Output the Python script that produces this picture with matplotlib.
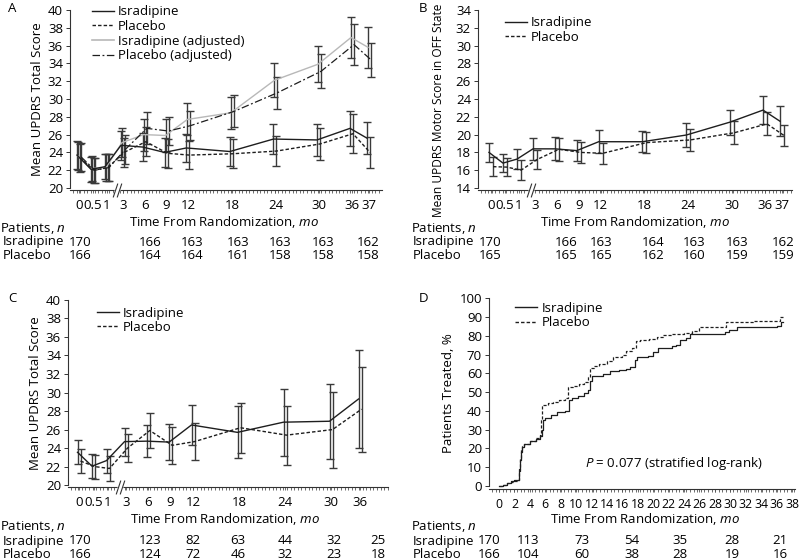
import numpy as np
import matplotlib
matplotlib.use('Agg')
import matplotlib.pyplot as plt
from matplotlib import transforms
from matplotlib.lines import Line2D

plt.rcParams['font.family'] = ['Open Sans', 'DejaVu Sans']
plt.rcParams['mathtext.fontset'] = 'custom'
plt.rcParams['mathtext.rm'] = 'Open Sans'
plt.rcParams['mathtext.it'] = 'Open Sans:italic'
plt.rcParams['font.size'] = 9.5
FS = 9.5

# ---------------- data ----------------
visits = [0, 0.5, 1, 3, 6, 9, 12, 18, 24, 30, 36, 37]
visit_labels = ['0', '0.5', '1', '3', '6', '9', '12', '18', '24', '30', '36', '37']

# panel A: UPDRS total score
a_isr = [23.7, 22.1, 22.4, 24.8, 24.6, 24.0, 24.5, 24.1, 25.5, 25.4, 26.7, 25.6]
a_isr_err = [1.6, 1.4, 1.4, 1.6, 1.6, 1.6, 1.6, 1.6, 1.7, 1.8, 2.0, 1.8]
a_pla = [23.4, 22.0, 22.3, 24.0, 25.2, 23.9, 23.7, 23.85, 24.15, 24.95, 26.1, 24.0]
a_pla_err = [1.6, 1.4, 1.5, 1.6, 1.6, 1.6, 1.6, 1.6, 1.7, 1.8, 2.2, 1.7]
a_isr_adj = [23.6, 22.2, 22.3, 25.1, 26.0, 25.9, 27.7, 28.45, 32.1, 33.9, 36.9, 35.8]
a_isr_adj_err = [1.6, 1.4, 1.5, 1.6, 1.8, 1.8, 1.8, 1.8, 1.9, 2.0, 2.3, 2.3]
a_pla_adj = [23.5, 22.0, 22.3, 24.3, 26.7, 26.4, 27.0, 28.6, 30.7, 33.1, 36.1, 34.4]
a_pla_adj_err = [1.6, 1.4, 1.5, 1.6, 1.8, 1.6, 1.6, 1.8, 1.8, 1.9, 2.3, 1.9]
a_n_isr = [170, 166, 163, 163, 163, 163, 162]
a_n_pla = [166, 164, 164, 161, 158, 158, 158]

# panel B: UPDRS motor score in OFF state
b_isr = [18.0, 16.8, 17.25, 18.4, 18.4, 18.2, 19.2, 19.2, 19.95, 21.4, 22.75, 21.5]
b_isr_err = [1.1, 1.0, 1.1, 1.2, 1.3, 1.2, 1.3, 1.2, 1.3, 1.4, 1.6, 1.7]
b_pla = [16.4, 16.35, 16.0, 17.2, 18.35, 18.0, 17.9, 19.1, 19.4, 20.2, 21.2, 19.9]
b_pla_err = [1.1, 1.0, 1.1, 1.1, 1.3, 1.2, 1.2, 1.2, 1.2, 1.3, 1.3, 1.2]
b_n_isr = [170, 166, 163, 164, 163, 163, 162]
b_n_pla = [165, 165, 165, 162, 160, 159, 159]

# panel C: UPDRS total score (before symptomatic treatment)
c_visits = visits[:-1]
c_labels = visit_labels[:-1]
c_isr = [23.55, 22.05, 22.65, 24.7, 24.75, 24.65, 26.5, 25.7, 26.8, 26.9, 29.3]
c_isr_err = [1.3, 1.3, 1.3, 1.5, 1.75, 1.95, 2.15, 2.8, 3.6, 4.05, 5.3]
c_pla = [22.6, 22.0, 21.8, 24.0, 25.9, 24.3, 24.7, 26.2, 25.4, 26.0, 28.2]
c_pla_err = [1.3, 1.3, 1.4, 1.5, 1.85, 2.0, 2.0, 2.7, 3.2, 4.1, 4.6]
c_n_isr = [170, 123, 82, 63, 44, 32, 25]
c_n_pla = [166, 124, 72, 46, 32, 23, 18]

# panel D: cumulative % treated (step curves)
d_isr_t = [0, 0.5, 1.0, 1.5, 2.0, 2.4, 2.6, 2.7, 2.8, 3.0, 3.3, 4.0, 4.8, 5.3, 5.6,
           5.7, 6.0, 6.8, 7.5, 8.6, 9.1, 9.5, 10.3, 11.0, 11.6, 11.8, 12.0, 13.5,
           14.4, 15.5, 16.5, 17.0, 17.6, 17.9, 19.3, 20.0, 20.6, 22.5, 23.0, 23.5,
           24.3, 24.8, 29.3, 29.8, 30.9, 36.0, 36.6, 36.8]
d_isr_v = [0, 0.6, 1.5, 2.5, 3.0, 3.4, 8, 14, 18, 21, 22.5, 24, 25, 26.5, 30,
           35, 36.5, 38, 39.2, 40, 46, 47, 48, 49.5, 51, 56, 58.5, 59.5,
           61.5, 62, 62.5, 63.5, 67, 68.5, 69.5, 71.5, 73.5, 74.5, 75, 78,
           79, 80.8, 82, 83.2, 84.6, 85.5, 87.5, 87.5]
d_pla_t = [0, 0.5, 1.0, 1.6, 2.0, 2.4, 2.6, 2.7, 2.85, 3.0, 3.3, 4.0, 4.8, 5.3, 5.5,
           5.6, 6.3, 7.0, 7.8, 8.5, 8.9, 9.6, 10.4, 11.0, 11.5, 11.8, 12.3, 13.0,
           14.0, 14.8, 15.9, 16.5, 17.3, 17.8, 18.3, 19.5, 20.5, 21.3, 22.4, 24.0,
           25.0, 26.0, 29.0, 29.5, 33.0, 36.0, 36.5, 36.8]
d_pla_v = [0, 0.5, 1.5, 2.3, 2.8, 3.4, 9, 15, 19, 21.5, 22.5, 24, 25.5, 27, 35,
           43, 44, 45, 46, 47, 53, 53.5, 54.5, 55.5, 58, 63, 64, 65,
           66.5, 68.5, 70, 72, 73.5, 77.5, 78, 78.5, 79.5, 80.5, 81, 81.5,
           82.5, 84.8, 85, 87.5, 88, 88.2, 90.3, 90.3]
d_n_isr = [170, 113, 73, 54, 35, 28, 21]
d_n_pla = [166, 104, 60, 38, 28, 19, 16]

# ---------------- layout ----------------
W, H = 800, 560
fig = plt.figure(figsize=(8, 5.6), dpi=100)

def fbox(l, t, r, b):
    return [l / W, 1 - b / H, (r - l) / W, (b - t) / H]

def make_scale(kt, kp):
    kt = np.asarray(kt, float)
    kp = np.asarray(kp, float)
    return (lambda t: np.interp(t, kt, kp)), (lambda p: np.interp(p, kp, kt))

DARK = '#1e1e1e'
EBAR = '#3a3a3a'
GRAY = '#b8b8b8'
DASH = (0, (2.5, 1.5))
DASHDOT = (0, (6, 2, 1.5, 2))


def style_axes(ax, fwd, inv, px0, px1, ticks, labels, ylim, yticks, brk=None,
               xfs=FS):
    ax.set_xscale('function', functions=(fwd, inv))
    ax.set_xlim(float(inv(px0)), float(inv(px1)))
    ax.set_xticks(ticks)
    ax.set_xticklabels(labels)
    ax.set_xticks(inv(np.arange(px0 + 3, px1, 3.6)), minor=True)
    ax.set_ylim(*ylim)
    ax.set_yticks(yticks)
    for s in ['top', 'right']:
        ax.spines[s].set_visible(False)
    for s in ['left', 'bottom']:
        ax.spines[s].set_linewidth(0.8)
        ax.spines[s].set_color('#333333')
    ax.spines['left'].set_bounds(yticks[0], yticks[-1])
    ax.tick_params(axis='x', which='both', length=2, width=0.6, color='#555555',
                   pad=4.5, labelsize=xfs)
    ax.tick_params(axis='y', length=3, width=0.7, color='#333333', pad=2,
                   labelsize=FS)
    if brk is not None:
        tr = transforms.blended_transform_factory(ax.transData, ax.transAxes)
        slash = [(-1, -3), (1, 3)]
        ax.plot([brk], [0], marker=slash, ms=10, mew=4, color='white',
                transform=tr, clip_on=False, zorder=5)
        for dp in (-1.8, 1.8):
            ax.plot([float(inv(fwd(brk) + dp))], [0], marker=slash, ms=10,
                    mew=0.8, color='#333333', transform=tr, clip_on=False,
                    zorder=6)


def series(ax, fwd, inv, t, y, e, dp, **kw):
    ts = inv(fwd(np.asarray(t, float)) + dp)
    ax.errorbar(ts, y, yerr=e, fmt='none', ecolor=EBAR, elinewidth=1,
                capsize=3, capthick=1, zorder=2)
    ax.plot(ts, y, zorder=3, **kw)


def table(x_label, x_rows, xs, n_isr, n_pla, y_lab, y_isr, y_pla, xlabel_y, xmid):
    fig.text(xmid / W, 1 - xlabel_y / H, 'Time From Randomization, $\\it{mo}$',
             ha='center', va='center', fontsize=FS)
    fig.text(x_label / W, 1 - y_lab / H, 'Patients, $\\it{n}$', ha='left',
             va='center', fontsize=FS)
    fig.text(x_rows / W, 1 - y_isr / H, 'Isradipine', ha='left', va='center',
             fontsize=FS)
    fig.text(x_rows / W, 1 - y_pla / H, 'Placebo', ha='left', va='center',
             fontsize=FS)
    for x, a, b in zip(xs, n_isr, n_pla):
        fig.text(x / W, 1 - y_isr / H, str(a), ha='center', va='center', fontsize=FS)
        fig.text(x / W, 1 - y_pla / H, str(b), ha='center', va='center', fontsize=FS)


def legend(ax, handles, x, y):
    ax.legend(handles=handles, loc='upper left', bbox_to_anchor=(x, y),
              frameon=False, handlelength=1.7, handletextpad=0.3,
              labelspacing=0.12, borderaxespad=0, borderpad=0, fontsize=FS)


h_isr = Line2D([], [], color=DARK, lw=1, label='Isradipine')
h_pla = Line2D([], [], color=DARK, lw=1, ls=DASH, label='Placebo')

# ---- Panel A ----
axA = fig.add_axes(fbox(70, 9, 382, 190))
fA, iA = make_scale([-0.5, 0, 1, 3, 30, 36, 37, 39],
                    [66, 79, 107, 123, 319, 352, 369, 393])
style_axes(axA, fA, iA, 70, 382, visits, visit_labels, (19.78, 40.1),
           np.arange(20, 41, 2), brk=2.25)
series(axA, fA, iA, visits, a_isr_adj, a_isr_adj_err, -1, color=GRAY, lw=1.0)
series(axA, fA, iA, visits, a_pla_adj, a_pla_adj_err, 2, color=DARK, lw=0.9,
       ls=DASHDOT)
series(axA, fA, iA, visits, a_isr, a_isr_err, -2, color=DARK, lw=1)
series(axA, fA, iA, visits, a_pla, a_pla_err, 1, color=DARK, lw=1, ls=DASH)
axA.set_ylabel('Mean UPDRS Total Score', fontsize=FS, labelpad=3)
legend(axA, [h_isr, h_pla,
             Line2D([], [], color=GRAY, lw=1.2, label='Isradipine (adjusted)'),
             Line2D([], [], color=DARK, lw=0.9, ls=DASHDOT,
                    label='Placebo (adjusted)')], 0.07, 1.02)
table(0, 3, [80, 150, 192, 238, 280, 323, 368], a_n_isr, a_n_pla,
      229, 242, 256, 222, 224)

# ---- Panel B ----
axB = fig.add_axes(fbox(478, 9, 792, 190))
fB, iB = make_scale([-0.5, 0, 1, 3, 30, 36, 37, 39],
                    [476, 491, 519, 535, 732, 765, 782, 806])
style_axes(axB, fB, iB, 478, 792, visits, visit_labels, (13.78, 34.1),
           np.arange(14, 35, 2), brk=2.5)
series(axB, fB, iB, visits, b_isr, b_isr_err, -2, color=DARK, lw=1)
series(axB, fB, iB, visits, b_pla, b_pla_err, 2, color=DARK, lw=1, ls=DASH)
axB.set_ylabel('Mean UPDRS Motor Score in OFF State', fontsize=8.6, labelpad=3)
axB.yaxis.set_label_coords(-0.105, 0.44)
legend(axB, [h_isr, h_pla], 0.085, 0.96)
table(411, 413, [490, 566, 601, 653, 694, 737, 783], b_n_isr, b_n_pla,
      229, 242, 256, 222, 635)

# ---- Panel C ----
axC = fig.add_axes(fbox(68, 299, 388, 487))
fC, iC = make_scale([-0.5, 0, 1, 3, 12, 30, 36, 42],
                    [65, 79, 108, 126, 193, 331, 360, 390])
style_axes(axC, fC, iC, 68, 388, c_visits, c_labels, (19.8, 40.1),
           np.arange(20, 41, 2), brk=2.33)
series(axC, fC, iC, c_visits, c_isr, c_isr_err, -1.5, color=DARK, lw=1)
series(axC, fC, iC, c_visits, c_pla, c_pla_err, 1.5, color=DARK, lw=1, ls=DASH)
axC.set_ylabel('Mean UPDRS Total Score', fontsize=FS, labelpad=3)
legend(axC, [h_isr, h_pla], 0.09, 0.96)
table(0, 3, [80, 150, 193, 238, 285, 334, 378], c_n_isr, c_n_pla,
      527, 541, 554, 519, 225)

# ---- Panel D ----
axD = fig.add_axes(fbox(489, 298, 795, 489))
fD, iD = make_scale([-2, 40], [483.6, 792 + 2 * 7.71])
style_axes(axD, fD, iD, 489, 795, np.arange(0, 39, 2),
           [str(v) for v in range(0, 39, 2)], (-1.6, 100.2),
           np.arange(0, 101, 10), xfs=8.8)
axD.step(d_isr_t, d_isr_v, where='post', color=DARK, lw=0.9)
axD.step(d_pla_t, d_pla_v, where='post', color=DARK, lw=0.9, ls=DASH)
axD.set_ylabel('Patients Treated, %', fontsize=FS, labelpad=3)
legend(axD, [h_isr, h_pla], 0.085, 0.98)
axD.text(0.895, 0.136, '$\\it{P}$ = 0.077 (stratified log-rank)',
         transform=axD.transAxes, ha='right', va='center', fontsize=FS)
table(411, 413, [489, 528, 582, 632, 680, 732, 780], d_n_isr, d_n_pla,
      527, 541, 554, 519, 645)

# panel letters
for letter, x, y in [('A', 12, 9), ('B', 423, 9), ('C', 12, 298), ('D', 423, 298)]:
    fig.text(x / W, 1 - y / H, letter, ha='center', va='center', fontsize=FS)

fig.savefig('out.png', dpi=100)
